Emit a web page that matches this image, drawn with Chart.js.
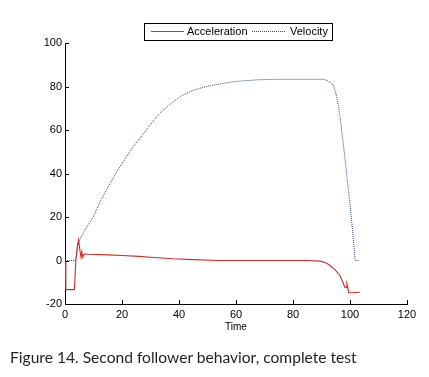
<!DOCTYPE html>
<html>
<head>
<meta charset="utf-8">
<script src="https://cdn.jsdelivr.net/npm/chart.js@4/dist/chart.umd.min.js"></script>
<style>
  html, body { margin: 0; padding: 0; background: #fff; }
  #wrap { position: relative; width: 429px; height: 377px; overflow: hidden; }
  #chart { position: absolute; left: 0; top: 0; }
  #caption {
    position: absolute; left: 10px; top: 347px;
    font-family: Lato, "Noto Sans", sans-serif; font-size: 15.6px;
    color: #231f20; white-space: nowrap; line-height: 20px;
  }
</style>
</head>
<body>
<div id="wrap">
  <canvas id="chart" width="429" height="377"></canvas>
  <div id="caption">Figure 14. Second follower behavior, complete test</div>
</div>
<script>
// Datos (tiempo en s)
const velTime   = [0, 3.6, 4.0, 4.7, 7, 9.9, 12.5, 15.8, 18.5, 21.6, 24, 26.3, 28.7, 31, 33.3, 36.5, 40.4, 44, 47.4, 51, 54.4, 58, 61.4, 67.8, 75, 90.6, 92, 93, 94.2, 95, 95.8, 96.5, 97.5, 98.2, 99, 100, 101, 101.8, 103.2];
const velValues = [0, 0, 2, 8.5, 14, 20, 27.5, 35.4, 41.5, 47.7, 52.5, 56.2, 60.3, 64.3, 67.7, 71.5, 75.4, 77.7, 79.2, 80.4, 81.2, 82, 82.5, 83.1, 83.3, 83.3, 82.8, 82, 80.5, 77, 72, 66, 55, 47.5, 37.5, 26.2, 12.5, 0, 0];

const accTime   = [0, 0.3, 3.3, 3.8, 4.3, 4.8, 5.2, 5.6, 5.9, 6.2, 6.7, 8, 15, 20, 26, 30, 38, 45, 54, 85, 89.5, 91.5, 93, 94.8, 96.5, 97.5, 98.2, 98.6, 98.9, 99.2, 99.5, 100.5, 103.5];
const accValues = [0, -13.4, -13.4, 0, 6.5, 9.5, 5, 1.5, 4, 1.5, 3, 2.9, 2.6, 2.3, 1.9, 1.5, 0.8, 0.4, 0, 0, -0.3, -1, -2.3, -4.3, -7, -10, -12.3, -12.5, -10.5, -12, -14.7, -14.8, -14.6];

const xTicks = [0, 20, 40, 60, 80, 100, 120];
const yTicks = [-20, 0, 20, 40, 60, 80, 100];

const toPoints = (xs, ys) => xs.map((x, i) => ({ x: x, y: ys[i] }));

// Marcas de eje hacia dentro (estilo Matlab)
const inwardTicks = {
    id: 'inwardTicks',
    afterDraw(chart) {
        const { ctx, scales: { x, y }, chartArea } = chart;
        ctx.save();
        ctx.strokeStyle = '#000';
        ctx.lineWidth = 1;
        ctx.beginPath();
        x.ticks.forEach(t => {
            const px = Math.round(x.getPixelForValue(t.value)) + 0.5;
            ctx.moveTo(px, chartArea.bottom);
            ctx.lineTo(px, chartArea.bottom - 4);
        });
        y.ticks.forEach(t => {
            const py = Math.round(y.getPixelForValue(t.value)) + 0.5;
            ctx.moveTo(chartArea.left, py);
            ctx.lineTo(chartArea.left + 4, py);
        });
        ctx.stroke();
        ctx.restore();
    }
};

// Leyenda con recuadro, arriba al centro
const boxLegend = {
    id: 'boxLegend',
    afterDraw(chart) {
        const ctx = chart.ctx;
        const ds = chart.data.datasets;
        const left = 144, top = 23, w = 188, h = 17;
        const midY = top + h / 2 + 0.5;
        ctx.save();
        ctx.fillStyle = '#fff';
        ctx.fillRect(left, top, w, h);
        ctx.strokeStyle = '#000';
        ctx.lineWidth = 1;
        ctx.strokeRect(left + 0.5, top + 0.5, w, h);
        ctx.font = '11px "Liberation Sans", Arial, sans-serif';
        ctx.textBaseline = 'middle';
        ctx.fillStyle = '#000';
        const items = [
            { x0: 151, x1: 184, tx: 187 },
            { x0: 252, x1: 286, tx: 290 }
        ];
        items.forEach((it, i) => {
            ctx.beginPath();
            ctx.strokeStyle = ds[i].borderColor;
            ctx.setLineDash(ds[i].borderDash || []);
            ctx.moveTo(it.x0, Math.round(midY) - 0.5);
            ctx.lineTo(it.x1, Math.round(midY) - 0.5);
            ctx.stroke();
            ctx.setLineDash([]);
            ctx.fillText(ds[i].label, it.tx, midY);
        });
        ctx.restore();
    }
};

const tickFont = { family: '"Liberation Sans", Arial, sans-serif', size: 11 };

new Chart(document.getElementById('chart'), {
    type: 'line',
    data: {
        datasets: [
            {
                label: 'Acceleration',
                data: toPoints(accTime, accValues),
                borderColor: '#d42a2a',
                borderWidth: 1.1,
                pointRadius: 0,
                tension: 0
            },
            {
                label: 'Velocity',
                data: toPoints(velTime, velValues),
                borderColor: '#33438c',
                borderWidth: 1,
                borderDash: [1, 1],
                pointRadius: 0,
                tension: 0
            }
        ]
    },
    options: {
        responsive: false,
        animation: false,
        layout: { padding: { top: 43, right: 22, bottom: 40, left: 0 } },
        plugins: { legend: { display: false }, tooltip: { enabled: false } },
        scales: {
            x: {
                type: 'linear',
                min: 0, max: 120,
                afterBuildTicks: s => { s.ticks = xTicks.map(v => ({ value: v })); },
                afterFit: s => { s.height = 33; },
                grid: { display: false, drawTicks: false },
                border: { display: true, color: '#000', width: 1 },
                ticks: { color: '#000', font: tickFont, padding: 4, maxRotation: 0 },
                title: {
                    display: true, text: 'Time', color: '#000',
                    font: { family: '"Liberation Sans", Arial, sans-serif', size: 10 },
                    padding: { top: 0, bottom: 4 }
                }
            },
            y: {
                type: 'linear',
                min: -20, max: 100,
                afterBuildTicks: s => { s.ticks = yTicks.map(v => ({ value: v })); },
                afterFit: s => { s.width = 65; },
                grid: { display: false, drawTicks: false },
                border: { display: true, color: '#000', width: 1 },
                ticks: { color: '#000', font: tickFont, padding: 3 }
            }
        }
    },
    plugins: [inwardTicks, boxLegend]
});
</script>
</body>
</html>
